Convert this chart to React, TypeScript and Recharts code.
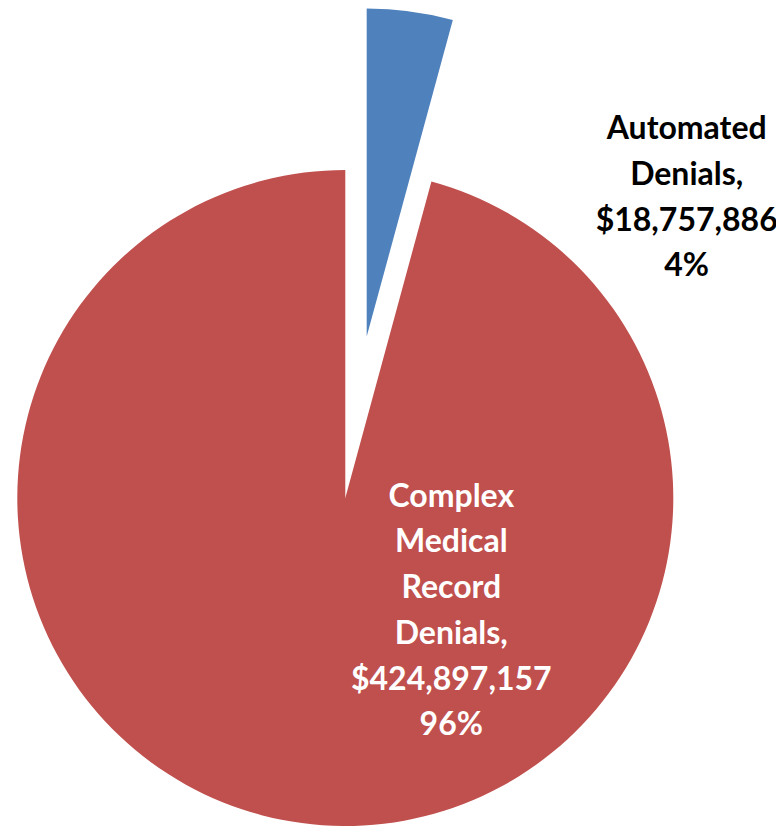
import { PieChart, Pie, Cell } from "recharts";

const categories = ["Automated Denials", "Complex Medical Record Denials"];
const amounts = [18757886, 424897157];

const COLORS = ["#4F81BD", "#C0504D"];
const LABEL_COLORS = ["#000000", "#ffffff"];

const data = categories.map((name, i) => ({ name, value: amounts[i] }));

const FONT = "Lato, 'Open Sans', sans-serif";

// where each label block sits, relative to its own pie centre
const LABEL_POS = [
  { dx: 320, dy: -197.5 },
  { dx: 106, dy: 8.7 },
];

// Excel-style pie: blue slice pulled out of the pie
const CENTER = { x: 337.3, y: 490 };
const EXPLODED = { x: 358.7, y: 328.6 };
const RADIUS = 328;

function makeLabel(which: number) {
  return (props: any) => {
    const { cx, cy, index, name, value, percent } = props;
    if (index !== which) return null;
    const words = String(name).split(" ");
    const lines = [
      ...words.slice(0, -1),
      words[words.length - 1] + ",",
      "$" + Number(value).toLocaleString("en-US"),
      Math.round(percent * 100) + "%",
    ];
    const pos = LABEL_POS[index];
    return (
      <text
        x={cx + pos.dx}
        y={cy + pos.dy}
        textAnchor="middle"
        fill={LABEL_COLORS[index]}
        fontFamily={FONT}
        fontWeight="bold"
        fontSize={32}
      >
        {lines.map((l, i) => (
          <tspan key={i} x={cx + pos.dx} dy={i === 0 ? 0 : 45.7}>
            {l}
          </tspan>
        ))}
      </text>
    );
  };
}

export default function App() {
  return (
    <div style={{ width: 776, height: 824 }}>
      <PieChart width={776} height={824} margin={{ top: 0, right: 0, bottom: 0, left: 0 }}>
        <Pie
          data={data}
          dataKey="value"
          nameKey="name"
          cx={CENTER.x}
          cy={CENTER.y}
          outerRadius={RADIUS}
          startAngle={90}
          endAngle={-270}
          stroke="none"
          labelLine={false}
          label={makeLabel(1)}
          isAnimationActive={false}
        >
          {data.map((_, i) => (
            <Cell key={i} fill={i === 1 ? COLORS[1] : "none"} />
          ))}
        </Pie>
        <Pie
          data={data}
          dataKey="value"
          nameKey="name"
          cx={EXPLODED.x}
          cy={EXPLODED.y}
          outerRadius={RADIUS}
          startAngle={90}
          endAngle={-270}
          stroke="none"
          labelLine={false}
          label={makeLabel(0)}
          isAnimationActive={false}
        >
          {data.map((_, i) => (
            <Cell key={i} fill={i === 0 ? COLORS[0] : "none"} />
          ))}
        </Pie>
      </PieChart>
    </div>
  );
}
